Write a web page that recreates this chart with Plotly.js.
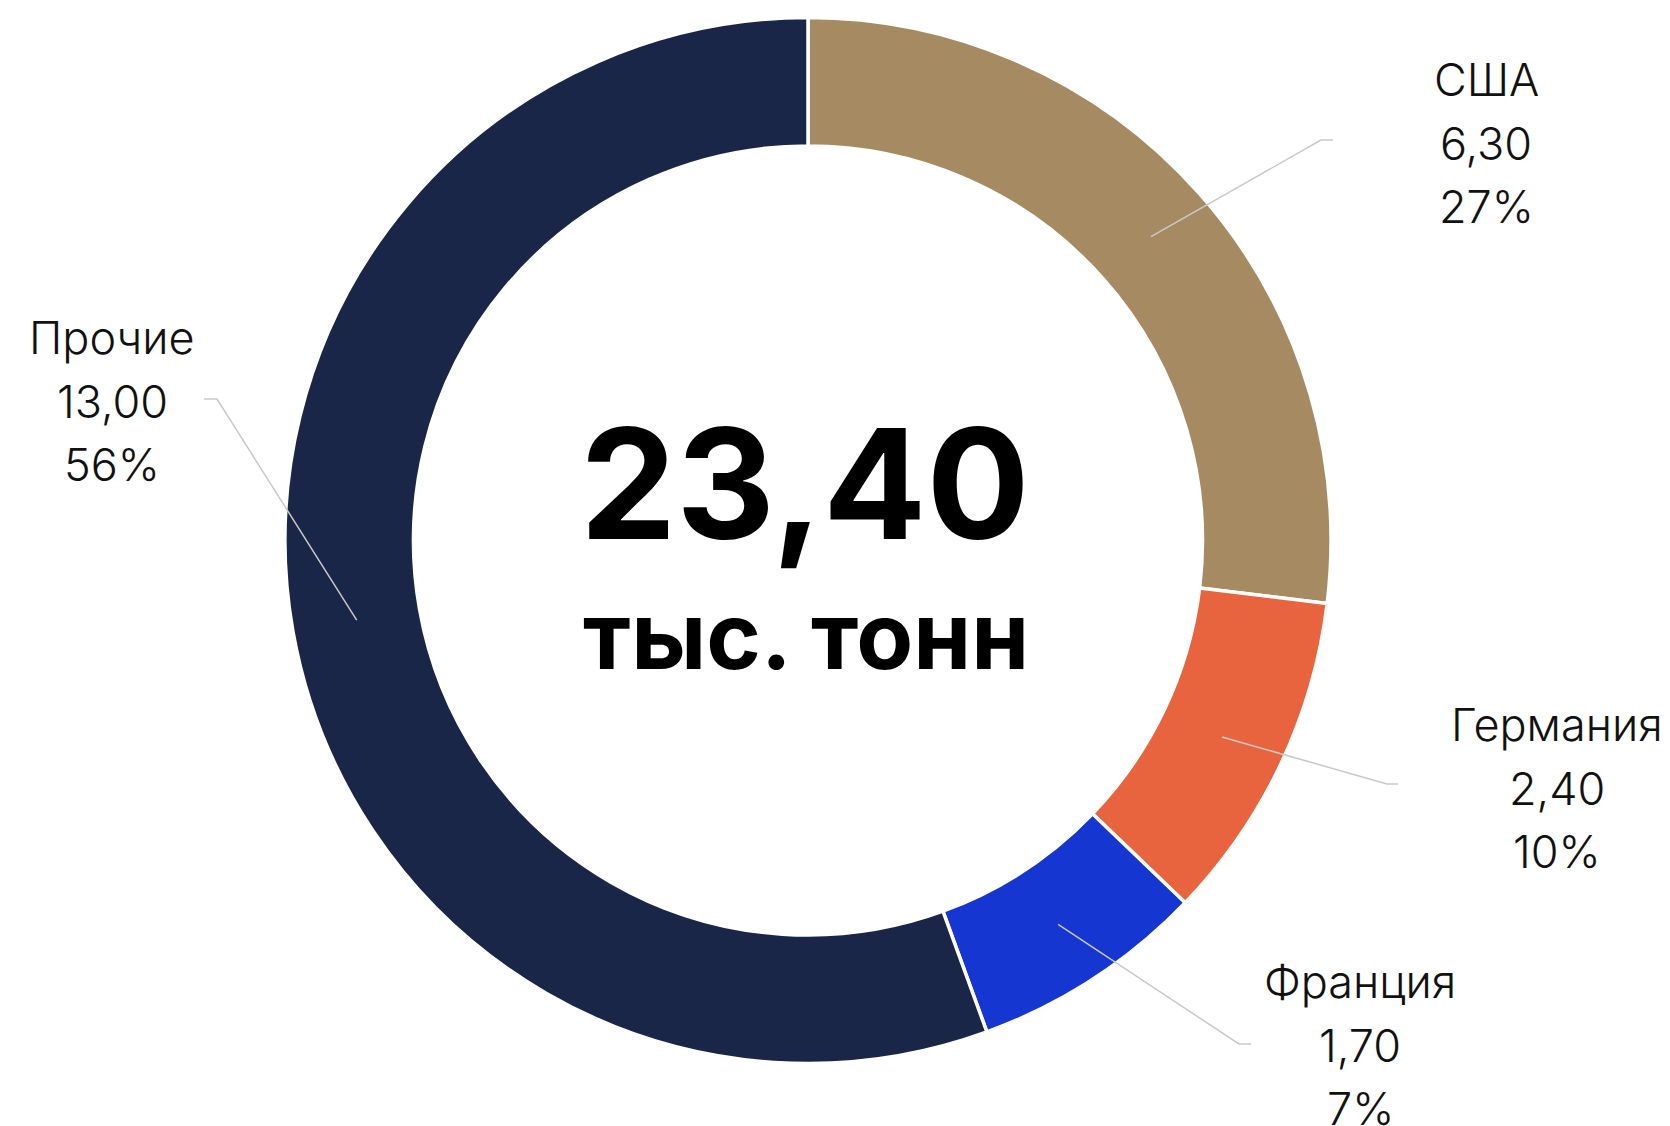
<!DOCTYPE html>
<html>
<head>
<meta charset="utf-8">
<script src="https://cdn.plot.ly/plotly-3.0.1.min.js"></script>
<style>html,body{margin:0;padding:0;background:#fff;}#chart{width:1670px;height:1126px;}</style>
</head>
<body>
<div id="chart"></div>
<script>
// ---- data ----
const categories = ['США', 'Германия', 'Франция', 'Прочие'];
const values = [6.30, 2.40, 1.70, 13.00];
const unitLabel = 'тыс. тонн';

// ---- styles ----
const colors = ['#A68B62', '#E8643E', '#1636D1', '#1A2647'];
// label placement (pixels): leader elbow, leader end, label centre x, first baseline
const labelLayout = [
  { elbow: [1321, 140], end: [1333, 140], cx: 1486, base: 95 },
  { elbow: [1387, 784], end: [1398, 784], cx: 1557, base: 740 },
  { elbow: [1239, 1044], end: [1251, 1044], cx: 1360, base: 997 },
  { elbow: [217, 399], end: [204, 399], cx: 112, base: 353 }
];

const W = 1670, H = 1126;
const CX = 808, CY = 540.5, R_OUT = 523, R_IN = 394.5;
const hole = R_IN / R_OUT;
const px = x => x / W;
const py = y => 1 - y / H;
const fmt = v => v.toFixed(2).replace('.', ',');

const total = values.reduce((a, b) => a + b, 0);

const trace = {
  type: 'pie',
  labels: categories,
  values: values,
  sort: false,
  direction: 'clockwise',
  rotation: 0,
  hole: hole,
  textinfo: 'none',
  hoverinfo: 'label+value+percent',
  marker: { colors: colors, line: { color: '#ffffff', width: 3.5 } },
  domain: {
    x: [px(CX - R_OUT), px(CX + R_OUT)],
    y: [py(CY + R_OUT), py(CY - R_OUT)]
  },
  showlegend: false
};

const shapes = [];
const annotations = [];
const labelFont = { family: 'Inter, Roboto, sans-serif', size: 45, color: '#111111', weight: 300 };
const lineGap = 63.5;
const rMid = (R_OUT + R_IN) / 2 - 0.5;

let cum = 0;
values.forEach((v, i) => {
  const midFrac = (cum + v / 2) / total;
  cum += v;
  const ang = midFrac * 2 * Math.PI;
  const sx = CX + rMid * Math.sin(ang);
  const sy = CY - rMid * Math.cos(ang);
  const L = labelLayout[i];
  shapes.push({
    type: 'path', xref: 'paper', yref: 'paper', layer: 'above',
    path: `M ${px(sx)} ${py(sy)} L ${px(L.elbow[0])} ${py(L.elbow[1])} L ${px(L.end[0])} ${py(L.end[1])}`,
    line: { color: '#C9C9C9', width: 1.5 }
  });
  const lines = [categories[i], fmt(v), Math.round(v / total * 100) + '%'];
  lines.forEach((t, k) => {
    const base = L.base + k * lineGap;
    annotations.push({
      xref: 'paper', yref: 'paper', x: px(L.cx), y: py(base - 0.34 * labelFont.size),
      xanchor: 'center', yanchor: 'middle', showarrow: false,
      text: t, font: labelFont
    });
  });
});

// centre total
annotations.push({
  xref: 'paper', yref: 'paper', x: px(805), y: py(539 - 0.364 * 153),
  xanchor: 'center', yanchor: 'middle', showarrow: false,
  text: fmt(total), font: { family: 'Inter, Roboto, sans-serif', size: 153, color: '#000000', weight: 700 }
});
annotations.push({
  xref: 'paper', yref: 'paper', x: px(806), y: py(669 - 0.364 * 93),
  xanchor: 'center', yanchor: 'middle', showarrow: false,
  text: unitLabel, font: { family: 'Inter, Roboto, sans-serif', size: 93, color: '#000000', weight: 700 }
});

const layout = {
  width: W, height: H,
  margin: { l: 0, r: 0, t: 0, b: 0 },
  paper_bgcolor: '#ffffff',
  plot_bgcolor: '#ffffff',
  showlegend: false,
  shapes: shapes,
  annotations: annotations
};

Plotly.newPlot('chart', [trace], layout, { displayModeBar: false, staticPlot: false });
</script>
</body>
</html>
